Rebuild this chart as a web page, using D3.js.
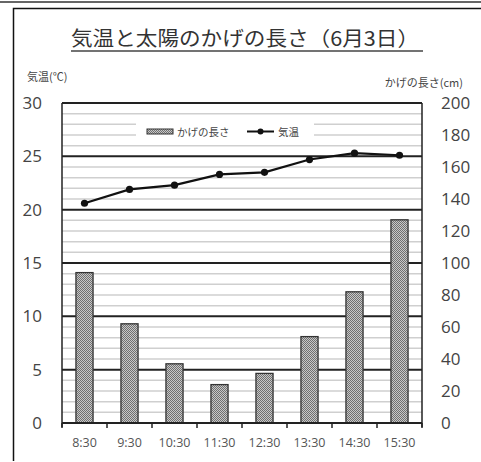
<!DOCTYPE html>
<html>
<head>
<meta charset="utf-8">
<script src="https://cdn.jsdelivr.net/npm/d3@7"></script>
<style>
  html, body { margin: 0; padding: 0; background: #fff; }
  svg { display: block; }
</style>
</head>
<body>
<svg id="chart" width="481" height="462"></svg>
<script>
// Observation times
const times = ["8:30", "9:30", "10:30", "11:30", "12:30", "13:30", "14:30", "15:30"];
// Shadow length (cm), right axis
const shadowLength = [94, 62, 37, 24, 31, 54, 82, 127];
// Air temperature (°C), left axis
const temperature = [20.6, 21.9, 22.3, 23.3, 23.5, 24.7, 25.3, 25.1];
// Axis ticks
const tempTicks = [0, 5, 10, 15, 20, 25, 30];
const lengthTicks = [0, 20, 40, 60, 80, 100, 120, 140, 160, 180, 200];

const svg = d3.select("#chart");
const jp = "'Noto Sans CJK JP', 'Noto Sans', sans-serif";
const num = "'Open Sans', 'DejaVu Sans', sans-serif";

const L = 62, R = 422, T = 103, B = 423;

const x = d3.scaleBand().domain(times).range([L, R]);
const yT = d3.scaleLinear().domain([0, 30]).range([B, T]);
const yS = d3.scaleLinear().domain([0, 200]).range([B, T]);

// Outer frame
svg.append("line").attr("x1", 0).attr("x2", 481).attr("y1", 2).attr("y2", 2)
  .attr("stroke", "#333").attr("stroke-width", 1.5);
svg.append("path").attr("d", "M481,8.5 H13.5 V461")
  .attr("fill", "none").attr("stroke", "#111").attr("stroke-width", 1.5);

// Stippled fill for the bars
const defs = svg.append("defs");
const pat = defs.append("pattern").attr("id", "stipple")
  .attr("width", 2).attr("height", 2).attr("patternUnits", "userSpaceOnUse");
pat.append("rect").attr("width", 2).attr("height", 2).attr("fill", "#c8c8c8");
pat.append("rect").attr("width", 1).attr("height", 1).attr("fill", "#707070");
pat.append("rect").attr("x", 1).attr("y", 1).attr("width", 1).attr("height", 1).attr("fill", "#707070");

// Title
svg.append("text").attr("x", 245).attr("y", 46).attr("text-anchor", "middle")
  .attr("font-family", jp).attr("font-size", 20).attr("fill", "#333")
  .attr("textLength", 348).attr("lengthAdjust", "spacingAndGlyphs")
  .text("気温と太陽のかげの長さ（6月3日）");
svg.append("line").attr("x1", 71).attr("x2", 423).attr("y1", 51).attr("y2", 51)
  .attr("stroke", "#444").attr("stroke-width", 1.3);

// Axis titles
svg.append("text").attr("x", 27).attr("y", 81).attr("font-family", jp)
  .attr("font-size", 11).attr("fill", "#444").text("気温(℃)");
svg.append("text").attr("x", 463).attr("y", 87).attr("text-anchor", "end").attr("font-family", jp)
  .attr("font-size", 11).attr("fill", "#444").text("かげの長さ(cm)");

// Minor gridlines every 1 °C
svg.append("g").selectAll("line").data(d3.range(1, 30).filter(v => v % 5 !== 0)).join("line")
  .attr("x1", L).attr("x2", R).attr("y1", d => yT(d)).attr("y2", d => yT(d))
  .attr("stroke", "#cfcfcf").attr("stroke-width", 1.5);

// Legend background
svg.append("rect").attr("x", 136).attr("y", 120).attr("width", 178).attr("height", 21).attr("fill", "#fff");

// Major gridlines every 5 °C
svg.append("g").selectAll("line").data(tempTicks.filter(v => v > 0)).join("line")
  .attr("x1", L).attr("x2", R).attr("y1", d => yT(d)).attr("y2", d => yT(d))
  .attr("stroke", "#222").attr("stroke-width", 2);

// Plot frame sides
svg.append("line").attr("x1", L).attr("x2", L).attr("y1", T).attr("y2", B + 4)
  .attr("stroke", "#222").attr("stroke-width", 1.5);
svg.append("line").attr("x1", R).attr("x2", R).attr("y1", T).attr("y2", B + 4)
  .attr("stroke", "#222").attr("stroke-width", 1.5);

// Bars: shadow length
const bw = x.bandwidth() * 0.38;
svg.append("g").selectAll("rect").data(times).join("rect")
  .attr("x", (d) => x(d) + (x.bandwidth() - bw) / 2)
  .attr("y", (d, i) => yS(shadowLength[i]))
  .attr("width", bw)
  .attr("height", (d, i) => B - yS(shadowLength[i]))
  .attr("fill", "url(#stipple)").attr("stroke", "#333").attr("stroke-width", 1.3);

// Bottom axis with tick marks at category boundaries
const xAxis = svg.append("g").attr("transform", `translate(0,${B})`);
xAxis.append("line").attr("x1", L).attr("x2", R).attr("stroke", "#222").attr("stroke-width", 2);
xAxis.selectAll("line.tk").data(d3.range(times.length + 1)).join("line").attr("class", "tk")
  .attr("x1", i => L + i * x.step()).attr("x2", i => L + i * x.step())
  .attr("y1", 0).attr("y2", 5).attr("stroke", "#222").attr("stroke-width", 1.5);
xAxis.selectAll("text").data(times).join("text")
  .attr("x", d => x(d) + x.bandwidth() / 2).attr("y", 24)
  .attr("text-anchor", "middle").attr("font-family", num).attr("font-size", 12.5)
  .attr("fill", "#555").text(d => d);

// Temperature line
const line = d3.line().x((d, i) => x(times[i]) + x.bandwidth() / 2).y(d => yT(d));
svg.append("path").datum(temperature).attr("d", line)
  .attr("fill", "none").attr("stroke", "#111").attr("stroke-width", 2.2);
svg.append("g").selectAll("circle").data(temperature).join("circle")
  .attr("cx", (d, i) => x(times[i]) + x.bandwidth() / 2).attr("cy", d => yT(d))
  .attr("r", 3.6).attr("fill", "#111");

// Left axis labels
const leftAxis = d3.axisLeft(yT).tickValues(tempTicks).tickSize(0).tickPadding(0);
svg.append("g").attr("transform", "translate(42,0)").call(leftAxis)
  .call(g => g.select(".domain").remove())
  .selectAll("text").attr("font-family", num).attr("font-size", 17).attr("fill", "#444");

// Right axis labels
const rightAxis = d3.axisRight(yS).tickValues(lengthTicks).tickSize(0).tickPadding(0);
svg.append("g").attr("transform", "translate(441,0)").call(rightAxis)
  .call(g => g.select(".domain").remove())
  .selectAll("text").attr("font-family", num).attr("font-size", 17).attr("fill", "#444");

// Legend
const lg = svg.append("g");
lg.append("rect").attr("x", 147).attr("y", 129).attr("width", 26).attr("height", 5)
  .attr("fill", "url(#stipple)").attr("stroke", "#333").attr("stroke-width", 1);
lg.append("text").attr("x", 177).attr("y", 135.5).attr("font-family", jp).attr("font-size", 10.5)
  .attr("fill", "#444").text("かげの長さ");
lg.append("line").attr("x1", 247).attr("x2", 274).attr("y1", 131.5).attr("y2", 131.5)
  .attr("stroke", "#111").attr("stroke-width", 2);
lg.append("circle").attr("cx", 260.5).attr("cy", 131.5).attr("r", 3).attr("fill", "#111");
lg.append("text").attr("x", 278).attr("y", 135.5).attr("font-family", jp).attr("font-size", 10.5)
  .attr("fill", "#444").text("気温");
</script>
</body>
</html>
